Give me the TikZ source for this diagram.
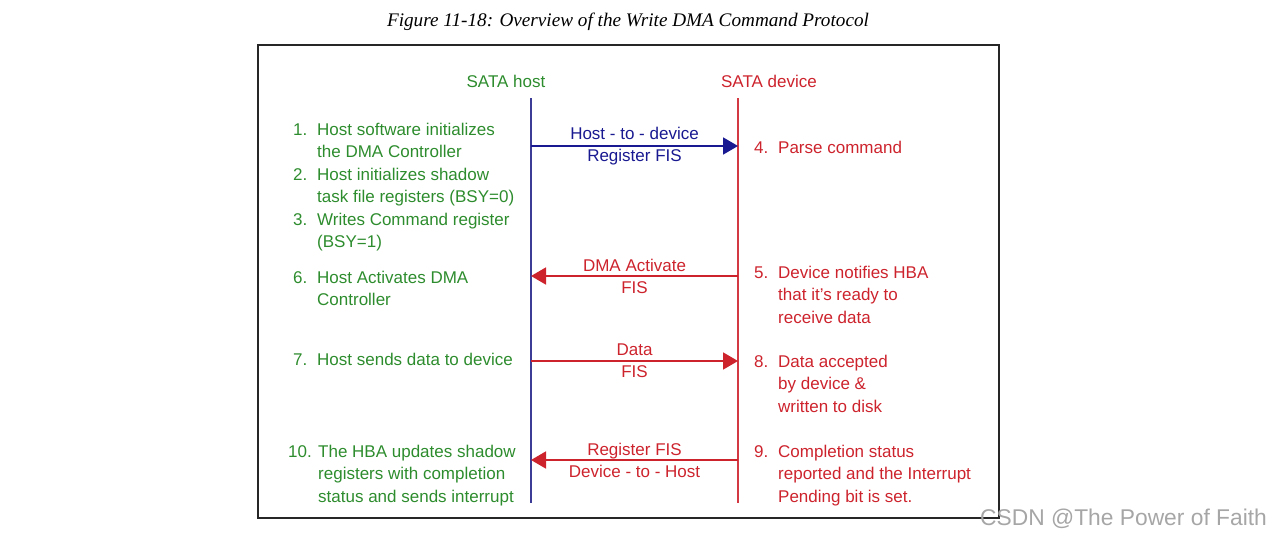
\documentclass[tikz,border=0pt]{standalone}
\usepackage{fontspec}
\setmainfont{Liberation Sans}
\newfontfamily\capfont{Liberation Serif}
\usetikzlibrary{arrows.meta}
\definecolor{hostgreen}{RGB}{45,140,45}
\definecolor{devred}{RGB}{205,35,45}
\definecolor{hostblue}{RGB}{60,60,150}
\definecolor{fisblue}{RGB}{25,25,145}
\newcommand{\stepno}[1]{\makebox[24pt][l]{#1}}
\newcommand{\stepind}{\hspace*{24pt}}
\tikzset{
  steptext/.style={anchor=base west,align=left,inner sep=0pt,
    font=\fontsize{17}{22.5}\selectfont},
  hoststep/.style={steptext,text=hostgreen},
  devstep/.style={steptext,text=devred},
  lifeline/.style={line width=1.6pt},
  fisflow/.style={line width=1.8pt,-{Triangle[length=15pt,width=17pt]}},
  fislabel/.style={align=center,inner sep=0pt,font=\fontsize{17}{22}\selectfont},
}
\begin{document}
\begin{tikzpicture}[x=1pt,y=-1pt]
\useasboundingbox (0,0) rectangle (1272,538);
% caption and frame
\node[anchor=base,font=\capfont\itshape\fontsize{19.2}{22}\selectfont] (title) at (628,27)
  {Figure 11-18: Overview of the Write DMA Command Protocol};
\node[draw=black!85,line width=1.2pt,minimum width=741pt,minimum height=473pt,
  inner sep=0pt] (frame) at (628.5,281.5) {};
% the two lifelines
\node[anchor=base,text=hostgreen,font=\fontsize{17}{20}\selectfont] (host) at (506,87) {SATA host};
\node[anchor=base,text=devred,font=\fontsize{17}{20}\selectfont] (device) at (769,87) {SATA device};
\coordinate (hosttop) at (531,98);
\coordinate (hostbot) at (531,503);
\coordinate (devtop) at (738,98);
\coordinate (devbot) at (738,503);
\draw[lifeline,hostblue] (hosttop) -- (hostbot);
\draw[lifeline,devred!90] (devtop) -- (devbot);
% host side steps (placed at the baseline of their last line)
\node[hoststep] (s1) at (293,157.5) {\stepno{1.}Host software initializes\\\stepind the DMA Controller};
\node[hoststep] (s2) at (293,202.5) {\stepno{2.}Host initializes shadow\\\stepind task file registers (BSY=0)};
\node[hoststep] (s3) at (293,247.5) {\stepno{3.}Writes Command register\\\stepind (BSY=1)};
\node[hoststep] (s6) at (293,305.5) {\stepno{6.}Host Activates DMA\\\stepind Controller};
\node[hoststep] (s7) at (293,365) {\stepno{7.}Host sends data to device};
\node[hoststep] (s10) at (288,502) {\makebox[30pt][l]{10.}The HBA updates shadow\\
  \hspace*{30pt}registers with completion\\\hspace*{30pt}status and sends interrupt};
% device side steps
\node[devstep] (s4) at (754,153) {\stepno{4.}Parse command};
\node[devstep] (s5) at (754,323) {\stepno{5.}Device notifies HBA\\\stepind that it's ready to\\\stepind receive data};
\node[devstep] (s8) at (754,412) {\stepno{8.}Data accepted\\\stepind by device \&\\\stepind written to disk};
\node[devstep] (s9) at (754,502) {\stepno{9.}Completion status\\\stepind reported and the Interrupt\\\stepind Pending bit is set.};
% FIS exchanges
\coordinate (h1) at (531,146); \coordinate (d1) at (738,146);
\coordinate (h2) at (531,276); \coordinate (d2) at (738,276);
\coordinate (h3) at (531,361); \coordinate (d3) at (738,361);
\coordinate (h4) at (531,460); \coordinate (d4) at (738,460);
\draw[fisflow,fisblue] (h1) -- (d1) node[fislabel,midway] (f1) {Host - to - device\\Register FIS};
\draw[fisflow,devred] (d2) -- (h2) node[fislabel,midway] (f2) {DMA Activate\\FIS};
\draw[fisflow,devred] (h3) -- (d3) node[fislabel,midway] (f3) {Data\\FIS};
\draw[fisflow,devred] (d4) -- (h4) node[fislabel,midway] (f4) {Register FIS\\Device - to - Host};
% watermark
\node[anchor=base west,text=black!35,font=\fontsize{22.8}{24}\selectfont,inner sep=0pt] (mark) at (980,525)
  {CSDN @The Power of Faith};
\end{tikzpicture}
\end{document}
